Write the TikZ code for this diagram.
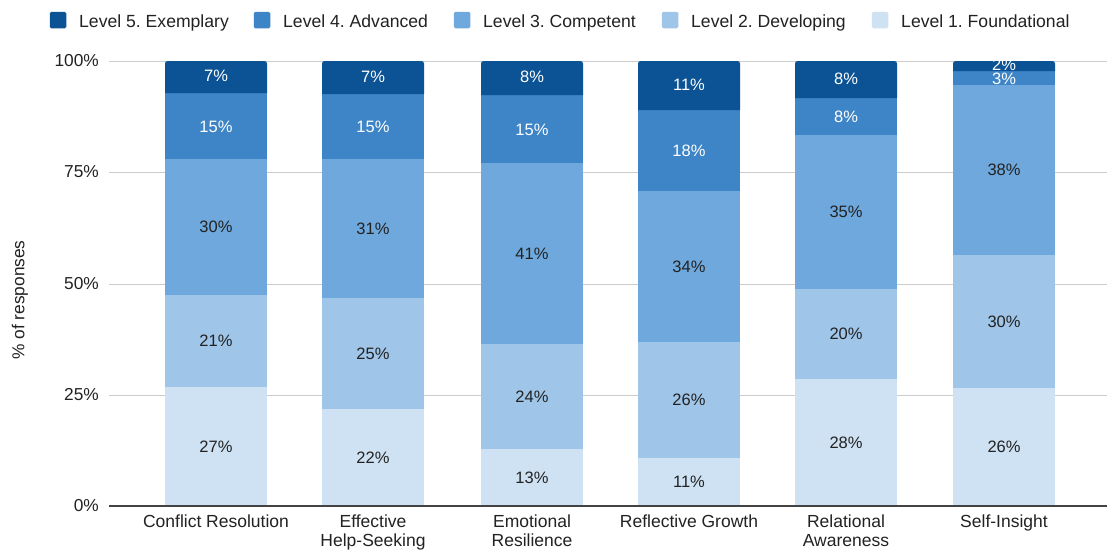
\documentclass[tikz,border=0pt]{standalone}
\usepackage{fontspec}
\setmainfont{Liberation Sans}
\frenchspacing
\definecolor{lfive}{HTML}{0B5394}
\definecolor{lfour}{HTML}{3D85C6}
\definecolor{lthree}{HTML}{6FA8DC}
\definecolor{ltwo}{HTML}{9FC5E8}
\definecolor{lone}{HTML}{CFE2F3}
\definecolor{txt}{HTML}{222222}
\definecolor{grid}{HTML}{CCCCCC}
\begin{document}
\begin{tikzpicture}[x=1pt,y=-1pt,
  lbl/.style={font=\fontsize{16.5}{18}\selectfont, text=txt, inner sep=0pt},
  wlbl/.style={lbl, text=white},
  axlbl/.style={font=\fontsize{17.3}{18}\selectfont, text=txt, inner sep=0pt, anchor=east},
  catlbl/.style={font=\fontsize{17.5}{19}\selectfont, text=txt, inner sep=0pt, anchor=north, align=center},
  leglbl/.style={font=\fontsize{17.6}{18}\selectfont, text=txt, inner sep=0pt, anchor=base west},
  legbox/.style={minimum width=16.5pt, minimum height=16.5pt, inner sep=0pt, draw=none, rounded corners=1.5pt}]
\useasboundingbox (0,0) rectangle (1107,550);
\fill[white] (0,0) rectangle (1107,550);
% gridlines
\foreach \g/\t in {61/100\%,172/75\%,284/50\%,395/25\%}{
  \draw[grid, line width=0.8pt] (109,\g) -- (1107,\g);
  \node[axlbl] at (99,\g) {\t};
}
\node[axlbl] at (99,506) {0\%};
% bars
\foreach \x/\a/\b/\c/\d/\pa/\pb/\pc/\pd/\pe [count=\i] in {
 165/387/295/159/93/27/21/30/15/7,
 322/409/298/159/94/22/25/31/15/7,
 481/449/344/163/95/13/24/41/15/8,
 638/458/342/191/110/11/26/34/18/11,
 795/379/289/135/98/28/20/35/8/8,
 953/388/255/85/71/26/30/38/3/2}{
  \fill[lone]   (\x,506) rectangle ++(102,\a-506);
  \fill[ltwo]   (\x,\a) rectangle ++(102,\b-\a);
  \fill[lthree] (\x,\b) rectangle ++(102,\c-\b);
  \fill[lfour]  (\x,\c) rectangle ++(102,\d-\c);
  \fill[lfive]  (\x,\d) {[rounded corners=2.5pt] -- (\x,61) -- (\x+102,61)} -- (\x+102,\d) -- cycle;
  \node[lbl]  (b\i l1) at (\x+51,{(506+\a)/2}) {\pa\%};
  \node[lbl]  (b\i l2) at (\x+51,{(\a+\b)/2}) {\pb\%};
  \node[lbl]  (b\i l3) at (\x+51,{(\b+\c)/2}) {\pc\%};
  \node[wlbl] (b\i l4) at (\x+51,{(\c+\d)/2+0.5}) {\pd\%};
  \node[wlbl] (b\i l5) at (\x+51,{(\d+61)/2-1}) {\pe\%};
}
% baseline
\draw[txt!85, line width=1.2pt] (109,506) -- (1107,506);
% category labels
\node[catlbl] (c1) at (216,515) {Conflict Resolution};
\node[catlbl] (c2) at (373,515) {Effective\\Help-Seeking};
\node[catlbl] (c3) at (532,515) {Emotional\\Resilience};
\node[catlbl] (c4) at (689,515) {Reflective Growth};
\node[catlbl] (c5) at (846,515) {Relational\\Awareness};
\node[catlbl] (c6) at (1004,515) {Self-Insight};
% y axis title
\node[font=\fontsize{17.3}{18}\selectfont, text=txt, rotate=90, inner sep=0pt] (yt) at (20,300) {\% of responses};
% legend
\node[legbox, fill=lfive]  (k5) at (58,20) {};
\node[leglbl] (t5) at (79,27) {Level 5. Exemplary};
\node[legbox, fill=lfour]  (k4) at (262,20) {};
\node[leglbl] (t4) at (283,27) {Level 4. Advanced};
\node[legbox, fill=lthree] (k3) at (462,20) {};
\node[leglbl] (t3) at (483,27) {Level 3. Competent};
\node[legbox, fill=ltwo]   (k2) at (670,20) {};
\node[leglbl] (t2) at (691,27) {Level 2. Developing};
\node[legbox, fill=lone]   (k1) at (880,20) {};
\node[leglbl] (t1) at (901,27) {Level 1. Foundational};
\end{tikzpicture}
\end{document}
